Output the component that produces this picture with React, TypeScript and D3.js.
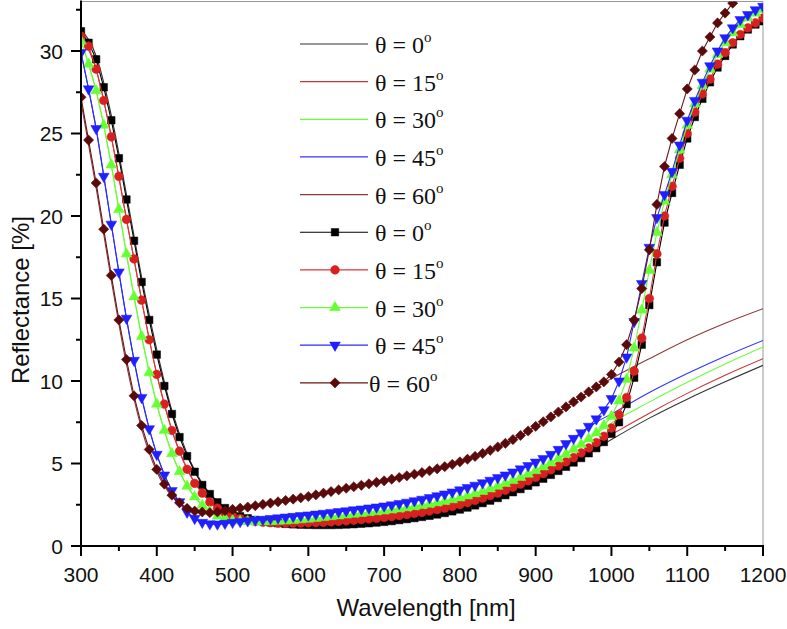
import React from 'react';
import * as d3 from 'd3';

// ---------- data ----------
const wavelengths = d3.range(300, 1201, 10);

const sim0 = [
  31.2, 30.5, 29.5, 27.8, 25.8, 23.5, 21.0, 18.5, 16.0, 13.7,
  11.6, 9.7, 8.0, 6.6, 5.45, 4.5, 3.7, 3.15, 2.65, 2.3,
  1.95, 1.8, 1.68, 1.58, 1.5, 1.43, 1.38, 1.34, 1.31, 1.29,
  1.28, 1.27, 1.27, 1.27, 1.28, 1.3, 1.32, 1.35, 1.38, 1.42,
  1.46, 1.51, 1.57, 1.63, 1.69, 1.76, 1.83, 1.91, 2.0, 2.1,
  2.21, 2.33, 2.46, 2.6, 2.75, 2.91, 3.08, 3.26, 3.45, 3.65,
  3.86, 4.08, 4.31, 4.55, 4.8, 5.06, 5.33, 5.62, 5.93, 6.3,
  6.8, 7.5, 8.6, 10.2, 12.2, 14.6, 17.2, 19.6, 21.4, 23.1,
  24.7, 26.0, 27.1, 28.1, 29.0, 29.7, 30.4, 30.9, 31.3, 31.6,
  31.8,
];
const sim15 = [
  30.9, 30.3, 28.9, 27.0, 24.8, 22.4, 19.8, 17.4, 14.9, 12.5,
  10.4, 8.6, 7.0, 5.75, 4.65, 3.8, 3.2, 2.66, 2.3, 2.0,
  1.8, 1.66, 1.56, 1.49, 1.44, 1.41, 1.39, 1.38, 1.38, 1.39,
  1.4, 1.41, 1.43, 1.46, 1.49, 1.52, 1.56, 1.6, 1.64, 1.68,
  1.73, 1.78, 1.84, 1.9, 1.97, 2.04, 2.12, 2.21, 2.3, 2.4,
  2.51, 2.63, 2.76, 2.9, 3.05, 3.21, 3.38, 3.56, 3.75, 3.95,
  4.16, 4.38, 4.61, 4.85, 5.1, 5.36, 5.64, 5.94, 6.27, 6.65,
  7.15, 7.95, 9.0, 10.6, 12.6, 15.0, 17.7, 20.0, 21.8, 23.5,
  25.0, 26.3, 27.4, 28.3, 29.2, 29.9, 30.5, 31.0, 31.4, 31.7,
  32.0,
];
const sim30 = [
  30.6, 29.2, 27.6, 25.5, 23.1, 20.4, 17.7, 15.1, 12.7, 10.5,
  8.6, 7.0, 5.6, 4.5, 3.63, 2.98, 2.48, 2.08, 1.81, 1.65,
  1.55, 1.5, 1.48, 1.47, 1.47, 1.48, 1.5, 1.52, 1.55, 1.59,
  1.63, 1.68, 1.73, 1.78, 1.83, 1.88, 1.93, 1.98, 2.03, 2.08,
  2.13, 2.19, 2.25, 2.32, 2.39, 2.46, 2.54, 2.62, 2.71, 2.81,
  2.92, 3.04, 3.17, 3.31, 3.46, 3.62, 3.79, 3.97, 4.16, 4.36,
  4.57, 4.8, 5.04, 5.3, 5.57, 5.86, 6.16, 6.49, 6.85, 7.3,
  7.85, 8.8, 10.1, 12.0, 14.3, 16.7, 19.0, 20.9, 22.5, 24.0,
  25.5, 26.8, 27.9, 28.9, 29.8, 30.5, 31.1, 31.6, 32.0, 32.3,
  32.5,
];
const sim45 = [
  29.9, 27.7, 25.3, 22.4, 19.5, 16.6, 13.8, 11.25, 9.0, 7.1,
  5.55, 4.3, 3.35, 2.68, 2.05, 1.67, 1.43, 1.34, 1.33, 1.37,
  1.43, 1.48, 1.52, 1.57, 1.61, 1.66, 1.7, 1.75, 1.79, 1.84,
  1.88, 1.93, 1.98, 2.03, 2.08, 2.13, 2.19, 2.24, 2.3, 2.36,
  2.42, 2.49, 2.57, 2.65, 2.74, 2.83, 2.93, 3.04, 3.15, 3.27,
  3.4, 3.54, 3.68, 3.83, 3.98, 4.14, 4.3, 4.48, 4.67, 4.87,
  5.08, 5.3, 5.55, 5.85, 6.2, 6.52, 6.86, 7.25, 7.7, 8.25,
  8.93, 10.0, 11.45, 13.6, 15.9, 18.1, 19.9, 21.3, 22.7, 24.3,
  25.8, 27.0, 28.1, 29.1, 30.0, 30.8, 31.4, 31.9, 32.2, 32.5,
  32.7,
];
const sim60 = [
  27.2, 24.6, 22.0, 19.2, 16.4, 13.7, 11.3, 9.1, 7.3, 5.85,
  4.64, 3.75, 3.08, 2.62, 2.28, 2.12, 2.06, 2.02, 2.06, 2.14,
  2.22, 2.29, 2.36, 2.44, 2.52, 2.6, 2.68, 2.76, 2.84, 2.92,
  3.0, 3.1, 3.2, 3.3, 3.4, 3.5, 3.59, 3.68, 3.77, 3.86,
  3.95, 4.05, 4.15, 4.25, 4.35, 4.45, 4.56, 4.68, 4.81, 4.95,
  5.1, 5.26, 5.43, 5.61, 5.8, 6.0, 6.22, 6.45, 6.7, 6.97,
  7.25, 7.53, 7.82, 8.12, 8.43, 8.73, 9.03, 9.34, 9.64, 9.95,
  10.4, 11.15, 12.2, 13.7, 15.6, 17.95, 20.7, 23.0, 24.7, 26.2,
  27.7, 28.85, 30.0, 30.85, 31.7, 32.3, 32.9, 33.4, 33.9, 34.3,
  34.7,
];

const plainWavelengths = [
  300, 320, 340, 360, 380, 400, 420, 440, 460, 480,
  500, 520, 540, 560, 580, 600, 620, 640, 660, 680,
  700, 720, 740, 760, 780, 800, 820, 840, 860, 880,
  900, 920, 940, 960, 980, 1000, 1050, 1100, 1150, 1200,
];
const line0 = [
  31.3, 29.7, 26.1, 21.3, 16.3, 11.9, 8.2, 5.6, 3.8, 2.7,
  2.0, 1.7, 1.5, 1.38, 1.31, 1.28, 1.27, 1.28, 1.32, 1.38,
  1.46, 1.57, 1.69, 1.83, 2.0, 2.21, 2.46, 2.75, 3.08, 3.45,
  3.86, 4.31, 4.8, 5.33, 5.9, 6.45, 7.75, 8.9, 9.95, 10.95,
];
const line15 = [
  30.9, 28.9, 24.8, 19.8, 14.9, 10.4, 7.0, 4.65, 3.2, 2.3,
  1.8, 1.56, 1.44, 1.39, 1.38, 1.4, 1.43, 1.49, 1.56, 1.64,
  1.73, 1.84, 1.97, 2.12, 2.3, 2.51, 2.76, 3.05, 3.38, 3.75,
  4.16, 4.61, 5.1, 5.64, 6.2, 6.75, 8.05, 9.25, 10.35, 11.35,
];
const line30 = [
  30.6, 27.6, 23.1, 17.7, 12.7, 8.6, 5.6, 3.63, 2.48, 1.81,
  1.55, 1.48, 1.47, 1.5, 1.55, 1.63, 1.73, 1.83, 1.93, 2.03,
  2.13, 2.25, 2.39, 2.54, 2.71, 2.92, 3.17, 3.46, 3.79, 4.16,
  4.57, 5.04, 5.57, 6.12, 6.8, 7.45, 8.72, 9.92, 11.03, 12.06,
];
const line45 = [
  29.9, 25.3, 19.5, 13.8, 9.0, 5.55, 3.35, 2.05, 1.43, 1.33,
  1.43, 1.52, 1.61, 1.7, 1.79, 1.88, 1.98, 2.08, 2.19, 2.3,
  2.42, 2.57, 2.74, 2.93, 3.15, 3.4, 3.68, 3.98, 4.3, 4.67,
  5.08, 5.55, 6.2, 6.86, 7.5, 8.0, 9.3, 10.45, 11.5, 12.46,
];
const line60 = [
  26.9, 21.7, 16.1, 11.0, 7.1, 4.5, 3.0, 2.25, 2.05, 2.05,
  2.22, 2.36, 2.52, 2.68, 2.84, 3.0, 3.2, 3.4, 3.59, 3.77,
  3.95, 4.15, 4.35, 4.56, 4.81, 5.1, 5.43, 5.8, 6.22, 6.7,
  7.25, 7.82, 8.43, 9.03, 9.64, 10.15, 11.35, 12.5, 13.5, 14.38,
];

const angles = ['0', '15', '30', '45', '60'];
const xMajorTicks = [300, 400, 500, 600, 700, 800, 900, 1000, 1100, 1200];
const xMinorTicks = [350, 450, 550, 650, 750, 850, 950, 1050, 1150];
const yMajorTicks = [0, 5, 10, 15, 20, 25, 30];
const yMinorTicks = [2.5, 7.5, 12.5, 17.5, 22.5, 27.5, 32.5];

// ---------- styles ----------
const plainSeries = [
  { values: line0, color: '#333333' },
  { values: line15, color: '#c83737' },
  { values: line30, color: '#66ff33' },
  { values: line45, color: '#3333ff' },
  { values: line60, color: '#8b3a3a' },
];
const markerSeries = [
  { values: sim0, line: '#000000', fill: '#000000', shape: 'square' },
  { values: sim15, line: '#e03535', fill: '#d92020', shape: 'circle' },
  { values: sim30, line: '#66ff33', fill: '#66ff33', shape: 'triUp' },
  { values: sim45, line: '#2a2aff', fill: '#1f1fff', shape: 'triDown' },
  { values: sim60, line: '#6a1515', fill: '#5a0a0a', shape: 'diamond' },
];

const W = 787;
const H = 629;
const L = 81, R = 763, T = 1.5, B = 546;

const x = d3.scaleLinear().domain([300, 1200]).range([L, R]);
const y = d3.scaleLinear().domain([0, 33]).range([B, T]);

function symbolPath(shape: string): { d: string; rot: number } {
  switch (shape) {
    case 'square':
      return { d: d3.symbol(d3.symbolSquare, 56)() as string, rot: 0 };
    case 'circle':
      return { d: d3.symbol(d3.symbolCircle, 60)() as string, rot: 0 };
    case 'triUp':
      return { d: d3.symbol(d3.symbolTriangle, 50)() as string, rot: 0 };
    case 'triDown':
      return { d: d3.symbol(d3.symbolTriangle, 50)() as string, rot: 180 };
    default:
      return { d: d3.symbol(d3.symbolSquare, 52)() as string, rot: 45 };
  }
}

const tickFont = "'Liberation Sans', Arial, sans-serif";
const legendFont = "'Liberation Serif', 'Times New Roman', serif";

export default function App() {
  const plainLine = d3
    .line<number>()
    .x((_, i) => x(plainWavelengths[i]))
    .y((v) => y(v))
    .curve(d3.curveMonotoneX);
  const simLine = d3
    .line<number>()
    .x((_, i) => x(wavelengths[i]))
    .y((v) => y(v));

  const rowY = (i: number) => 44 + i * 37.65;

  return (
    <svg
      width={W}
      height={H}
      style={{ position: 'absolute', left: 0, top: 0, background: '#fff' }}
    >
      <defs>
        <clipPath id="plotClip">
          <rect x={L} y={T} width={R - L} height={B - T} />
        </clipPath>
      </defs>
      <rect x={0} y={0} width={W} height={H} fill="#fff" />

      {/* frame top/right */}
      <line x1={L} x2={R} y1={T} y2={T} stroke="#999" strokeWidth={1} />
      <line x1={R} x2={R} y1={T} y2={B} stroke="#999" strokeWidth={1} />

      <g clipPath="url(#plotClip)">
        {plainSeries.map((s, i) => (
          <path
            key={'pl' + i}
            d={plainLine(s.values) as string}
            fill="none"
            stroke={s.color}
            strokeWidth={1.1}
          />
        ))}
        {markerSeries.map((s, i) => {
          const sym = symbolPath(s.shape);
          return (
            <g key={'ms' + i}>
              <path
                d={simLine(s.values) as string}
                fill="none"
                stroke={s.line}
                strokeWidth={1.1}
              />
              {s.values.map((v, j) => (
                <path
                  key={j}
                  d={sym.d}
                  transform={`translate(${x(wavelengths[j])},${y(v)}) rotate(${sym.rot})`}
                  fill={s.fill}
                  stroke={s.fill}
                  strokeWidth={0.5}
                />
              ))}
            </g>
          );
        })}
      </g>

      {/* axes */}
      <line x1={L} x2={L} y1={T - 1} y2={B + 1} stroke="#000" strokeWidth={2} />
      <line x1={L - 1} x2={R + 1} y1={B} y2={B} stroke="#000" strokeWidth={2} />
      {xMajorTicks.map((t) => (
        <g key={'xt' + t}>
          <line x1={x(t)} x2={x(t)} y1={B} y2={B + 10} stroke="#000" strokeWidth={2} />
          <text
            x={x(t)}
            y={582}
            textAnchor="middle"
            fontFamily={tickFont}
            fontSize={21}
            fill="#111"
          >
            {t}
          </text>
        </g>
      ))}
      {xMinorTicks.map((t) => (
        <line key={'xm' + t} x1={x(t)} x2={x(t)} y1={B} y2={B + 5} stroke="#000" strokeWidth={2} />
      ))}
      {yMajorTicks.map((t) => (
        <g key={'yt' + t}>
          <line x1={L - 10} x2={L} y1={y(t)} y2={y(t)} stroke="#000" strokeWidth={2} />
          <text
            x={63}
            y={y(t) + 7.5}
            textAnchor="end"
            fontFamily={tickFont}
            fontSize={21}
            fill="#111"
          >
            {t}
          </text>
        </g>
      ))}
      {yMinorTicks.map((t) => (
        <line key={'ym' + t} x1={L - 5} x2={L} y1={y(t)} y2={y(t)} stroke="#000" strokeWidth={2} />
      ))}

      {/* axis titles */}
      <text
        x={426}
        y={616}
        textAnchor="middle"
        fontFamily={tickFont}
        fontSize={24}
        fill="#111"
      >
        Wavelength [nm]
      </text>
      <text
        transform="translate(29,300) rotate(-90)"
        textAnchor="middle"
        fontFamily={tickFont}
        fontSize={24}
        fill="#111"
      >
        Reflectance [%]
      </text>

      {/* legend */}
      {plainSeries.map((s, i) => (
        <g key={'lg' + i}>
          <line x1={300} x2={368} y1={rowY(i)} y2={rowY(i)} stroke={s.color} strokeWidth={1.2} />
          <text x={375} y={rowY(i) + 9} fontFamily={legendFont} fontSize={24} fill="#111">
            θ = {angles[i]}
            <tspan fontSize={15} dy={-11}>o</tspan>
          </text>
        </g>
      ))}
      {markerSeries.map((s, i) => {
        const sym = symbolPath(s.shape);
        const yy = rowY(i + 5);
        return (
          <g key={'lm' + i}>
            <line x1={300} x2={368} y1={yy} y2={yy} stroke={s.line} strokeWidth={1.2} />
            <path
              d={sym.d}
              transform={`translate(335,${yy}) rotate(${sym.rot})`}
              fill={s.fill}
              stroke={s.fill}
              strokeWidth={0.5}
            />
            <text
              x={i === 4 ? 369 : 375}
              y={yy + 9}
              fontFamily={legendFont}
              fontSize={24}
              fill="#111"
            >
              θ = {angles[i]}
              <tspan fontSize={15} dy={-11}>o</tspan>
            </text>
          </g>
        );
      })}
    </svg>
  );
}
